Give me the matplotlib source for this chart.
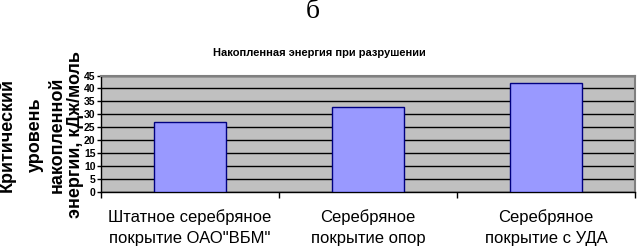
import matplotlib
matplotlib.use("Agg")
import matplotlib.pyplot as plt
import numpy as np

categories = ["Штатное серебряное\nпокрытие ОАО\"ВБМ\"",
              "Серебряное\nпокрытие опор",
              "Серебряное\nпокрытие с УДА"]
values = [27, 33, 42]
yticks = [0, 5, 10, 15, 20, 25, 30, 35, 40, 45]
title = "Накопленная энергия при разрушении"
ylabel_lines = ["Критический", "уровень", "накопленной", "энергии, кДж/моль"]

plt.rcParams['font.family'] = ['Liberation Sans', 'DejaVu Sans']

fig = plt.figure(figsize=(6.37, 2.48), dpi=100)
W, H = 637, 248
L, R, T, B = 101, 635, 75.5, 192
ax = fig.add_axes([L / W, 1 - B / H, (R - L) / W, (B - T) / H])
ax.set_facecolor('#C0C0C0')

x = np.arange(len(categories))
ax.bar(x, values, width=0.41, color='#9999FF', edgecolor='#000080', linewidth=1.0, zorder=3)

ax.set_xlim(-0.5, len(categories) - 0.5)
ax.set_ylim(0, 45)
ax.set_yticks(yticks)
ax.set_yticklabels([str(v) for v in yticks], fontsize=7.5, fontweight='bold')
ax.yaxis.grid(True, color='black', linewidth=1.0, zorder=1)
ax.set_axisbelow(True)

# x ticks at category boundaries, labels at centres
ax.set_xticks(np.arange(-0.5, len(categories) + 0.5, 1.0))
ax.set_xticklabels([])
ax.set_xticks(x, minor=True)
ax.set_xticklabels(categories, minor=True, fontsize=12, linespacing=1.5)
ax.tick_params(axis='x', which='minor', length=0, pad=12)
ax.tick_params(axis='x', which='major', length=4, width=1, color='black', direction='out')
ax.tick_params(axis='y', length=3, width=1, pad=1, direction='out')

for s in ['left', 'bottom']:
    ax.spines[s].set_color('black')
    ax.spines[s].set_linewidth(1.0)
for s in ['top', 'right']:
    ax.spines[s].set_color('#808080')
    ax.spines[s].set_linewidth(1.5)

# title and figure letter
fig.text(319 / W, 1 - 53 / H, title, fontsize=8, fontweight='bold', ha='center', va='center')
fig.text(313 / W, 1 - 12 / H, "б", fontsize=20, family=['Liberation Serif', 'DejaVu Serif'],
         ha='center', va='center')

# multi-line rotated y label
xs = [7, 35, 57, 75]
for xp, line in zip(xs, ylabel_lines):
    fig.text(xp / W, 1 - 135 / H, line, rotation=90, fontsize=13, fontweight='bold',
             ha='center', va='center', zorder=0)

fig.savefig("out.png", dpi=100)
